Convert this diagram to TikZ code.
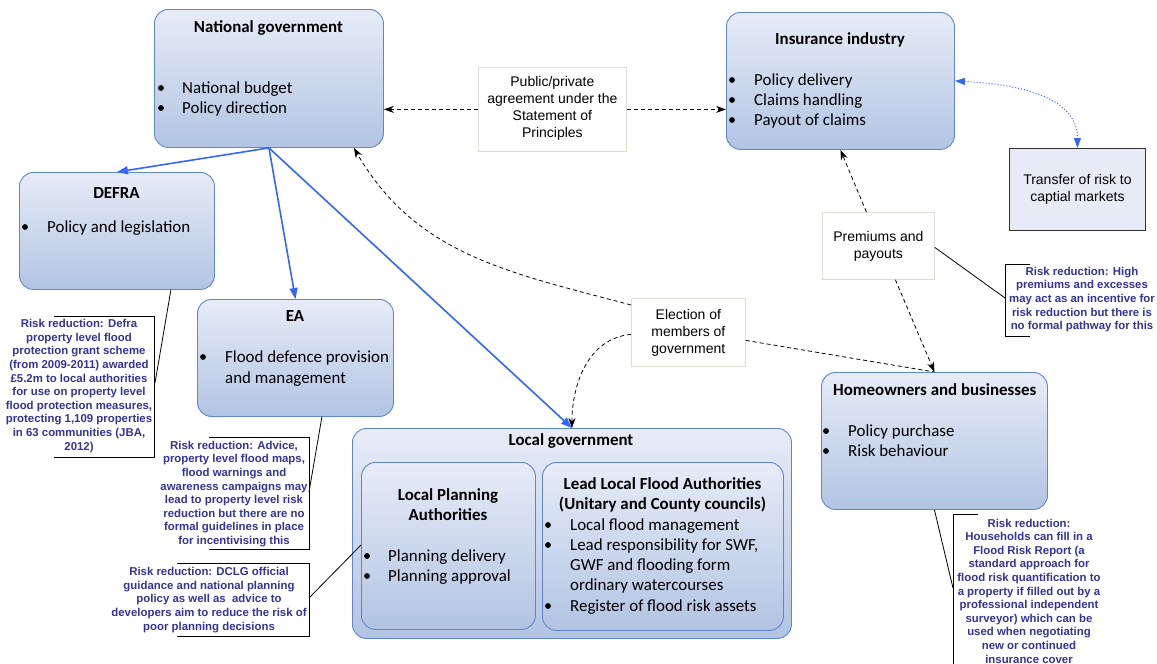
\documentclass[tikz,border=0pt]{standalone}
\usepackage{fontspec}
\setmainfont{Carlito}
\newfontfamily\arialf{Liberation Sans}
\usetikzlibrary{arrows.meta,calc}
\definecolor{boxtop}{RGB}{231,236,247}
\definecolor{boxbot}{RGB}{178,196,227}
\definecolor{boxborder}{RGB}{95,135,205}
\definecolor{arrblue}{RGB}{51,102,255}
\definecolor{callblue}{RGB}{51,51,153}
\definecolor{lblborder}{RGB}{222,222,212}
\definecolor{trffill}{RGB}{230,235,245}
\tikzset{
 gbox/.style={draw=boxborder, line width=0.9pt, rounded corners=14pt, top color=boxtop, bottom color=boxbot, inner sep=0pt, anchor=north west},
 lbox/.style={draw=lblborder, line width=0.8pt, fill=white, inner sep=0pt, anchor=north west},
 tbox/.style={draw=black!80, line width=0.9pt, fill=trffill, inner sep=0pt, anchor=north west},
 ttl/.style={font=\fontsize{16.9}{20.5}\selectfont\bfseries, anchor=base, inner sep=0pt},
 ttlw/.style={font=\fontsize{16.9}{20.5}\selectfont\bfseries, anchor=base west, inner sep=0pt},
 itm/.style={font=\fontsize{16.9}{20.5}\selectfont, anchor=base west, inner sep=0pt},
 lbl/.style={font=\arialf\fontsize{14}{17}\selectfont, align=center, inner sep=0pt},
 call/.style={font=\arialf\bfseries\fontsize{11.4}{13.6}\selectfont, text=callblue, align=center, inner sep=0pt},
 blarr/.style={draw=arrblue, line width=1.6pt, -{Triangle[length=11pt,width=8pt]}},
 dsharr/.style={draw=black, line width=0.8pt, dash pattern=on 4pt off 3pt, -{Stealth[length=10pt,width=7pt]}},
 dshline/.style={draw=black, line width=0.8pt, dash pattern=on 4pt off 3pt},
 brk/.style={draw=black, line width=0.9pt},
 lead/.style={draw=black, line width=0.8pt},
 dotarr/.style={draw=arrblue, line width=1pt, dotted, {Triangle[length=10pt,width=7pt]}-{Triangle[length=10pt,width=7pt]}},
}
\newcommand{\bul}[2]{\fill (#1,#2) circle (2.9pt);}
\begin{document}
\begin{tikzpicture}[x=1pt,y=-1pt]
\useasboundingbox (0,0) rectangle (1157,664);
% ---------- boxes ----------
\node[gbox, minimum width=229pt, minimum height=138pt] (ng) at (154,9) {};
\node[gbox, minimum width=228pt, minimum height=137pt] (ins) at (726,12) {};
\node[gbox, minimum width=195pt, minimum height=117pt] (defra) at (19,172) {};
\node[gbox, minimum width=196pt, minimum height=117pt] (ea) at (197,299) {};
\node[gbox, minimum width=439pt, minimum height=210pt] (lg) at (352,428) {};
\node[gbox, minimum width=174pt, minimum height=167pt] (lpa) at (361,462) {};
\node[gbox, minimum width=241pt, minimum height=168pt] (llfa) at (542,462) {};
\node[gbox, minimum width=226pt, minimum height=137pt] (hw) at (821,372) {};
\node[tbox, minimum width=136pt, minimum height=82pt] (trf) at (1009,148) {};
\node[lbox, minimum width=112pt, minimum height=67pt] (prem) at (822,212) {};
\node[lbox, minimum width=114pt, minimum height=68pt] (elec) at (631,298) {};
\node[lbox, minimum width=148pt, minimum height=84pt] (pub) at (478,67) {};
% ---------- texts ----------
\node[ttl] (ngt) at (268.5,32) {National government};
\bul{161}{88}\node[itm] (ng1) at (182,93) {National budget};
\bul{161}{108}\node[itm] (ng2) at (182,113) {Policy direction};

\node[ttl] (inst) at (840,44) {Insurance industry};
\bul{732}{80}\node[itm] (ins1) at (754,85) {Policy delivery};
\bul{732}{100}\node[itm] (ins2) at (754,105) {Claims handling};
\bul{732}{120}\node[itm] (ins3) at (754,125) {Payout of claims};

\node[ttl] (defrat) at (116.5,198) {DEFRA};
\bul{25}{227}\node[itm] (defra1) at (47,232) {Policy and legislation};

\node[ttl] (eat) at (295,321) {EA};
\bul{203}{357}\node[itm] (ea1) at (225,362) {Flood defence provision};
\node[itm] (ea2) at (225,383) {and management};

\node[ttl] (lgt) at (571,445) {Local government};
\node[ttl] (lpat1) at (448,500) {Local Planning};
\node[ttl] (lpat2) at (448,520) {Authorities};
\bul{367}{556}\node[itm] (lpa1) at (388,561) {Planning delivery};
\bul{367}{576}\node[itm] (lpa2) at (388,581) {Planning approval};

\node[ttl] (llfat1) at (662.5,489) {Lead Local Flood Authorities};
\node[ttl] (llfat2) at (662.5,509) {(Unitary and County councils)};
\bul{548}{525}\node[itm] (llfa1) at (570,530) {Local flood management};
\bul{548}{545}\node[itm] (llfa2) at (570,550) {Lead responsibility for SWF,};
\node[itm] (llfa3) at (570,570) {GWF and flooding form};
\node[itm] (llfa4) at (570,590) {ordinary watercourses};
\bul{548}{606}\node[itm] (llfa5) at (570,611) {Register of flood risk assets};

\node[ttlw] (hwt) at (833,395) {Homeowners and businesses};
\bul{826}{431}\node[itm] (hw1) at (848,436) {Policy purchase};
\bul{826}{451}\node[itm] (hw2) at (848,456) {Risk behaviour};

\node[lbl] (trft) at (trf.center) {Transfer of risk to\\captial markets};
\node[lbl] (premt) at (prem.center) {Premiums and\\payouts};
\node[lbl] (elect) at (elec.center) {Election of\\members of\\government};
\node[lbl] (pubt) at ($(pub.center)+(0,-1)$) {Public/private\\agreement under the\\Statement of\\Principles};

% ---------- callouts ----------
\node[call] (c1) at (79,386) {Risk reduction: Defra\\property level flood\\protection grant scheme\\(from 2009-2011) awarded\\£5.2m to local authorities\\for use on property level\\flood protection measures,\\protecting 1,109 properties\\in 63 communities (JBA,\\2012)};
\draw[brk] (54,316) -- (154,316) -- (154,457) -- (54,457);
\node[call] (c2) at (234,494) {Risk reduction: Advice,\\property level flood maps,\\flood warnings and\\awareness campaigns may\\lead to property level risk\\reduction but there are no\\formal guidelines in place\\for incentivising this};
\draw[brk] (209,437) -- (309,437) -- (309,549) -- (209,549);
\node[call] (c3) at (209,600) {Risk reduction: DCLG official\\guidance and national planning\\policy as well as\ \ advice to\\developers aim to reduce the risk of\\poor planning decisions};
\draw[brk] (177,563) -- (309,563) -- (309,636) -- (177,636);
\node[call] (c4) at (1082,299.5) {Risk reduction: High\\premiums and excesses\\may act as an incentive for\\risk reduction but there is\\no formal pathway for this};
\draw[brk] (1030,264) -- (1005,264) -- (1005,336) -- (1030,336);
\node[call] (c5) at (1029,591) {Risk reduction:\\Households can fill in a\\Flood Risk Report (a\\standard approach for\\flood risk quantification to\\a property if filled out by a\\professional independent\\surveyor) which can be\\used when negotiating\\new or continued\\insurance cover};
\draw[brk] (978,514) -- (953,514) -- (953,664);

% ---------- lead lines ----------
\coordinate (l1a) at ($(defra.south east)+(-44,0)$);
\coordinate (l1b) at (155,383);
\draw[lead] (l1a) -- (l1b);
\coordinate (l2a) at ($(ea.south east)+(-72,0)$);
\coordinate (l2b) at (309,492);
\draw[lead] (l2a) -- (l2b);
\coordinate (l3a) at (309,598);
\coordinate (l3b) at (lpa.west |- 0,545);
\draw[lead] (l3a) -- (l3b);
\coordinate (l4b) at (1005,298);
\draw[lead] ($(prem.east)+(0,1.5)$) -- (l4b);
\coordinate (l5b) at (953,588);
\draw[lead] (hw.south) -- (l5b);

% ---------- connectors ----------
\draw[blarr] (ng.south) -- (defra.north);
\draw[blarr] (ng.south) -- (ea.north);
\draw[blarr] (ng.south) -- (lg.north);

\draw[dsharr] (pub.west) -- (ng.east |- pub.west);
\draw[dsharr] (pub.east) -- (ins.west |- pub.east);
\draw[dsharr] ($(prem.north)+(-12,0)$) -- (ins.south);
\draw[dsharr] ($(prem.south)+(17,0)$) -- (hw.north);
\draw[dshline] ($(elec.east)+(0,8)$) -- (hw.north);
\draw[dsharr] ($(elec.north west)+(0,7)$) to[out=165,in=-60] ($(ng.south east)+(-30,0)$);
\draw[dsharr] ($(elec.west)+(0,2)$) to[out=185,in=90] (lg.north);
\draw[dotarr] (ins.east) to[out=-3,in=90] (trf.north);
\end{tikzpicture}
\end{document}
